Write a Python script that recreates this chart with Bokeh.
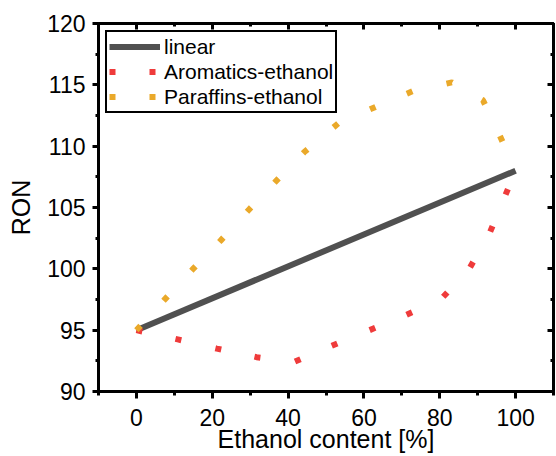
from bokeh.plotting import figure
from bokeh.models import Range1d, FixedTicker, LinearAxis, Legend, LegendItem
from bokeh.embed import file_html
from bokeh.resources import INLINE

# ---- data ----
ethanol_linear = [0, 100]
ron_linear = [95.0, 108.0]

ethanol_aromatics = [0, 10.9, 21.2, 31.7, 41.5, 51.3, 61.1, 70.9, 80.4, 87.7, 93.2, 97.3, 100]
ron_aromatics = [95.0, 94.25, 93.5, 92.8, 92.4, 93.7, 94.95, 96.2, 97.55, 99.95, 102.95, 106.0, 108.0]

ethanol_paraffins = [0, 7.6, 14.8, 22.2, 29.6, 36.8, 44.2, 53.4, 63.1, 73.0, 83.2, 91.4, 96.0, 100]
ron_paraffins = [95.0, 97.55, 99.95, 102.3, 104.8, 107.15, 109.5, 111.9, 113.2, 114.5, 115.2, 113.75, 110.75, 108.0]

series_labels = ["linear", "Aromatics-ethanol", "Paraffins-ethanol"]
x_title = "Ethanol content [%]"
y_title = "RON"

x_major = [0, 20, 40, 60, 80, 100]
x_minor = [-10, 10, 30, 50, 70, 90, 110]
y_major = [90, 95, 100, 105, 110, 115, 120]
y_minor = [92.5, 97.5, 102.5, 107.5, 112.5, 117.5]

FONT = "Liberation Sans"

p = figure(width=556, height=456, output_backend="svg", toolbar_location=None,
           x_range=Range1d(-10, 110), y_range=Range1d(90, 120),
           min_border_left=98, min_border_right=3, min_border_top=23, min_border_bottom=65,
           x_axis_label=x_title, y_axis_label=y_title)
p.grid.visible = False
p.outline_line_color = "black"
p.outline_line_width = 3
p.background_fill_color = "white"
p.border_fill_color = "white"


def style_axis(ax, ticks, minor, out_major, out_minor):
    ax.ticker = FixedTicker(ticks=ticks, minor_ticks=minor)
    ax.axis_line_width = 3
    ax.axis_line_color = "black"
    ax.major_tick_line_width = 3
    ax.minor_tick_line_width = 3
    ax.major_tick_line_color = "black"
    ax.minor_tick_line_color = "black"
    ax.major_tick_out = out_major
    ax.minor_tick_out = out_minor
    ax.major_tick_in = 0
    ax.minor_tick_in = 0
    ax.major_label_text_font = FONT
    ax.major_label_text_font_size = "23px"
    ax.major_label_text_color = "black"
    ax.axis_label_text_font = FONT
    ax.axis_label_text_font_size = "25px"
    ax.axis_label_text_font_style = "normal"
    ax.axis_label_text_color = "black"


def mirror_axis(ticks, length):
    # tick marks only (no labels): ticks pointing into the frame
    ax = LinearAxis(ticker=FixedTicker(ticks=[], minor_ticks=ticks))
    ax.axis_line_width = 3
    ax.axis_line_color = "black"
    ax.major_tick_in = 0
    ax.major_tick_out = 0
    ax.minor_tick_in = length
    ax.minor_tick_out = 0
    ax.minor_tick_line_width = 3
    ax.minor_tick_line_color = "black"
    ax.major_label_standoff = 0
    ax.axis_label_standoff = 0
    return ax


xb = p.xaxis[0]
style_axis(xb, x_major, x_minor, 7, 4)
xb.major_label_standoff = 10
xb.axis_label_standoff = -4

yl = p.yaxis[0]
style_axis(yl, y_major, y_minor, 6, 3)
yl.major_label_standoff = 7
yl.axis_label_standoff = 9

p.add_layout(mirror_axis(x_major, 6), "above")
p.add_layout(mirror_axis(x_minor, 3), "above")
p.add_layout(mirror_axis(y_major, 6), "right")
p.add_layout(mirror_axis(y_minor, 3), "right")

r_lin = p.line(ethanol_linear, ron_linear, line_color="#505050", line_width=6)
r_aro = p.line(ethanol_aromatics, ron_aromatics, line_color="#ef3b3b", line_width=6,
               line_dash="6 34 6 35")
r_par = p.line(ethanol_paraffins, ron_paraffins, line_color="#eaa92a", line_width=6,
               line_dash="6 34 6 35")

legend = Legend(items=[LegendItem(label=series_labels[0], renderers=[r_lin]),
                       LegendItem(label=series_labels[1], renderers=[r_aro]),
                       LegendItem(label=series_labels[2], renderers=[r_par])],
                location=(7, 278))
legend.border_line_color = "black"
legend.border_line_alpha = 1.0
legend.border_line_width = 2.5
legend.background_fill_color = "white"
legend.background_fill_alpha = 1
legend.label_text_font = FONT
legend.label_text_font_size = "21px"
legend.label_text_color = "black"
legend.glyph_width = 51
legend.glyph_height = 25
legend.label_height = 25
legend.spacing = 0
legend.padding = 2
legend.label_standoff = 4
legend.margin = 0
p.add_layout(legend)

open("out.html", "w").write(file_html(p, INLINE))
